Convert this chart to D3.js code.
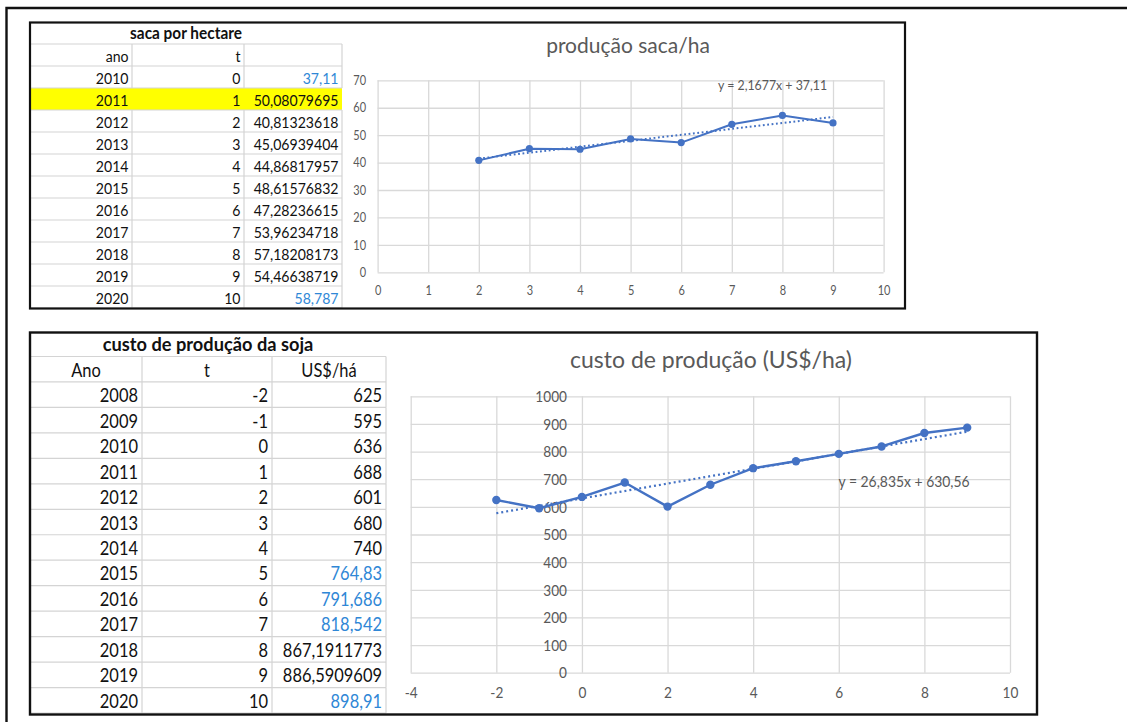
<!DOCTYPE html>
<html>
<head>
<meta charset="utf-8">
<script src="https://cdn.jsdelivr.net/npm/d3@7"></script>
<style>
  html, body { margin: 0; padding: 0; background: #fff; }
  svg { display: block; }
</style>
</head>
<body>
<svg id="sheet" width="1127" height="722"></svg>
<script>
// ---- saca por hectare (yield table + chart) ----
const sacaAno = [2010, 2011, 2012, 2013, 2014, 2015, 2016, 2017, 2018, 2019, 2020];
const sacaT = [0, 1, 2, 3, 4, 5, 6, 7, 8, 9, 10];
const sacaValues = [37.11, 50.08079695, 40.81323618, 45.06939404, 44.86817957, 48.61576832,
                    47.28236615, 53.96234718, 57.18208173, 54.46638719, 58.787];
const sacaProjectedYears = [2010, 2020];
const sacaHighlightYear = 2011;
const sacaChartT = [2, 3, 4, 5, 6, 7, 8, 9];
const sacaTrendCoef = [2.1677, 37.11];            // slope, intercept
const sacaXTicks = [0, 1, 2, 3, 4, 5, 6, 7, 8, 9, 10];
const sacaYTicks = [0, 10, 20, 30, 40, 50, 60, 70];

// ---- custo de produção da soja (cost table + chart) ----
const custoAno = [2008, 2009, 2010, 2011, 2012, 2013, 2014, 2015, 2016, 2017, 2018, 2019, 2020];
const custoT = [-2, -1, 0, 1, 2, 3, 4, 5, 6, 7, 8, 9, 10];
const custoValues = [625, 595, 636, 688, 601, 680, 740, 764.83, 791.686, 818.542,
                     867.1911773, 886.5909609, 898.91];
const custoProjectedYears = [2015, 2016, 2017, 2020];
const custoChartT = [-2, -1, 0, 1, 2, 3, 4, 5, 6, 7, 8, 9];
const custoTrendCoef = [26.835, 630.56];          // slope, intercept
const custoXTicks = [-4, -2, 0, 2, 4, 6, 8, 10];
const custoYTicks = [0, 100, 200, 300, 400, 500, 600, 700, 800, 900, 1000];

// ---- styling ----
const FONT = 'Lato, "Open Sans", "Noto Sans", sans-serif';
const SX = 0.88;                    // horizontal squeeze to mimic a narrow spreadsheet face
const INK = '#111';
const BLUE_TEXT = '#2f87d6';
const SERIES = '#4472C4';
const GRID = '#d9d9d9';
const CELL_GRID = '#d4d4d4';
const AXIS_TEXT = '#595959';

const svg = d3.select('#sheet');
svg.append('rect').attr('width', 1127).attr('height', 722).attr('fill', '#fff');

const comma = v => String(v).replace('.', ',');

function label(g, x, y, s, o) {
  return g.append('text')
    .attr('transform', `translate(${x},${y}) scale(${o.sx ?? SX},1)`)
    .attr('text-anchor', o.anchor || 'start')
    .style('font-family', FONT)
    .style('font-size', o.size + 'px')
    .style('font-weight', o.weight || 400)
    .attr('fill', o.color || INK)
    .text(s);
}

// ---------- spreadsheet table ----------
function drawTable(g, cfg) {
  const [x0, x1, x2, x3] = cfg.cols;
  const rowsTop = cfg.titleBottom;
  const n = cfg.rows.length + 1; // header + data rows
  const rh = (cfg.bottom - rowsTop) / n;

  // highlighted row fill
  cfg.rows.forEach((r, i) => {
    if (r.highlight) {
      g.append('rect').attr('x', x0).attr('y', rowsTop + rh * (i + 1))
        .attr('width', x3 - x0).attr('height', rh).attr('fill', '#ffff00');
    }
  });

  // cell gridlines
  const grid = g.append('g').attr('stroke', CELL_GRID).attr('stroke-width', 1.2).attr('fill', 'none');
  for (let i = 0; i <= n; i++) {
    const y = rowsTop + rh * i;
    grid.append('line').attr('x1', x0).attr('x2', x3).attr('y1', y).attr('y2', y);
  }
  for (let i = 0; i < n; i++) {
    const r = i === 0 ? null : cfg.rows[i - 1];
    if (r && r.highlight) continue;
    [x1, x2, x3].forEach(x => {
      grid.append('line').attr('x1', x).attr('x2', x)
        .attr('y1', rowsTop + rh * i).attr('y2', rowsTop + rh * (i + 1));
    });
  }

  // title (centred across the three columns)
  label(g, (x0 + x3) / 2, rowsTop - cfg.titlePad, cfg.title,
        { anchor: 'middle', size: cfg.titleSize, weight: 700, sx: 0.95 });

  // header row
  cfg.header.forEach((h, j) => {
    if (!h) return;
    const left = cfg.cols[j], right = cfg.cols[j + 1];
    const ax = cfg.headerAlign === 'middle' ? (left + right) / 2 : right - cfg.pad;
    label(g, ax, rowsTop + rh - cfg.basePad, h, { anchor: cfg.headerAlign, size: cfg.size });
  });

  // data rows
  cfg.rows.forEach((r, i) => {
    const yb = rowsTop + rh * (i + 2) - cfg.basePad;
    label(g, x1 - cfg.pad, yb, r.ano, { anchor: 'end', size: cfg.size });
    label(g, x2 - cfg.pad, yb, r.t, { anchor: 'end', size: cfg.size });
    label(g, x3 - cfg.pad, yb, r.val, { anchor: 'end', size: cfg.size, color: r.projected ? BLUE_TEXT : INK });
  });
}

// ---------- scatter chart with straight lines + linear trendline ----------
function drawChart(g, cfg) {
  const x = d3.scaleLinear().domain(cfg.xDomain).range(cfg.xRange);
  const y = d3.scaleLinear().domain(cfg.yDomain).range(cfg.yRange);
  const w = cfg.xRange[1] - cfg.xRange[0];
  const h = cfg.yRange[0] - cfg.yRange[1];
  const plain = d => String(d);

  // horizontal gridlines
  const gy = g.append('g').attr('transform', `translate(${cfg.xRange[0]},0)`)
    .call(d3.axisLeft(y).tickValues(cfg.yTicks).tickSize(-w).tickFormat(''));
  gy.select('.domain').remove();
  gy.selectAll('line').attr('stroke', GRID).attr('stroke-width', 1.3);

  // vertical gridlines
  const gx = g.append('g').attr('transform', `translate(0,${cfg.yRange[0]})`)
    .call(d3.axisBottom(x).tickValues(cfg.xTicks).tickSize(-h).tickFormat(''));
  gx.select('.domain').remove();
  gx.selectAll('line').attr('stroke', GRID).attr('stroke-width', 1.3);

  // y tick labels (axis sits at cfg.yAxisAt)
  const ly = g.append('g').attr('transform', `translate(${x(cfg.yAxisAt)},0)`)
    .call(d3.axisLeft(y).tickValues(cfg.yTicks).tickSize(0).tickPadding(cfg.yPad).tickFormat(plain));
  ly.select('.domain').remove();
  ly.selectAll('text')
    .attr('x', function () { return +this.getAttribute('x') / SX; })
    .attr('transform', `scale(${SX},1)`)
    .attr('dy', '0.34em')
    .style('font-family', FONT).style('font-size', cfg.tickSize + 'px').attr('fill', AXIS_TEXT);

  // x tick labels
  const lx = g.append('g').attr('transform', `translate(0,${cfg.yRange[0]})`)
    .call(d3.axisBottom(x).tickValues(cfg.xTicks).tickSize(0).tickPadding(cfg.xPad).tickFormat(plain));
  lx.select('.domain').remove();
  lx.selectAll('text')
    .attr('transform', `scale(${SX},1)`)
    .style('font-family', FONT).style('font-size', cfg.tickSize + 'px').attr('fill', AXIS_TEXT);

  // title
  label(g, cfg.titleX, cfg.titleY, cfg.title,
        { anchor: 'middle', size: cfg.titleSize, color: AXIS_TEXT, sx: 1 });

  // linear trendline
  const [m, b] = cfg.trend;
  const tx = d3.extent(cfg.points, d => d[0]);
  g.append('path')
    .datum(tx.map(t => [t, m * t + b]))
    .attr('d', d3.line().x(d => x(d[0])).y(d => y(d[1])))
    .attr('fill', 'none').attr('stroke', SERIES).attr('stroke-width', cfg.trendWidth)
    .attr('stroke-dasharray', cfg.dash);

  // series line + markers
  g.append('path')
    .datum(cfg.points)
    .attr('d', d3.line().x(d => x(d[0])).y(d => y(d[1])))
    .attr('fill', 'none').attr('stroke', SERIES).attr('stroke-width', cfg.lineWidth)
    .attr('stroke-linejoin', 'round');
  g.selectAll('circle.pt').data(cfg.points).join('circle')
    .attr('class', 'pt')
    .attr('cx', d => x(d[0])).attr('cy', d => y(d[1])).attr('r', cfg.r)
    .attr('fill', SERIES);

  // trendline equation
  const eq = `y = ${comma(m)}x + ${comma(b)}`;
  label(g, cfg.eqX, cfg.eqY, eq, { size: cfg.eqSize, color: AXIS_TEXT, sx: cfg.eqSx });
}

// ================= page frame =================
svg.append('path').attr('d', 'M6.5,722 V8 H1127')
  .attr('fill', 'none').attr('stroke', INK).attr('stroke-width', 2.4);

// ================= block 1 =================
const b1 = svg.append('g');
drawTable(b1, {
  cols: [30, 132, 244, 342],
  titleBottom: 44, bottom: 308,
  title: 'saca por hectare', titleSize: 16.2, titlePad: 4.8,
  header: ['ano', 't', ''], headerAlign: 'end',
  size: 16, pad: 3.5, basePad: 4.2,
  rows: sacaAno.map((a, i) => ({
    ano: String(a), t: String(sacaT[i]), val: comma(sacaValues[i]),
    projected: sacaProjectedYears.includes(a), highlight: a === sacaHighlightYear
  }))
});
drawChart(b1, {
  xDomain: [0, 10], xRange: [377.6, 883.6],
  yDomain: [0, 70], yRange: [272.3, 80.3],
  xTicks: sacaXTicks, yTicks: sacaYTicks, yAxisAt: 0,
  yPad: 11.5, xPad: 14, tickSize: 12.5,
  title: 'produção saca/ha', titleX: 628, titleY: 53, titleSize: 21,
  points: sacaChartT.map(t => [t, sacaValues[sacaT.indexOf(t)]]),
  trend: sacaTrendCoef, trendWidth: 2, dash: '1.8,2.6',
  lineWidth: 2, r: 3.6,
  eqX: 718, eqY: 89.5, eqSize: 13, eqSx: 0.95
});
b1.append('rect').attr('x', 30).attr('y', 22.5).attr('width', 875).attr('height', 286)
  .attr('fill', 'none').attr('stroke', INK).attr('stroke-width', 2.2);

// ================= block 2 =================
const b2 = svg.append('g');
drawTable(b2, {
  cols: [30, 142, 272, 386],
  titleBottom: 356.5, bottom: 713,
  title: 'custo de produção da soja', titleSize: 19.2, titlePad: 5.5,
  header: ['Ano', 't', 'US$/há'], headerAlign: 'middle',
  size: 18.7, pad: 4, basePad: 5.2,
  rows: custoAno.map((a, i) => ({
    ano: String(a), t: String(custoT[i]), val: comma(custoValues[i]),
    projected: custoProjectedYears.includes(a), highlight: false
  }))
});
drawChart(b2, {
  xDomain: [-4, 10], xRange: [410.7, 1010],
  yDomain: [0, 1000], yRange: [672.7, 396.3],
  xTicks: custoXTicks, yTicks: custoYTicks, yAxisAt: 0,
  yPad: 15, xPad: 14, tickSize: 15.5,
  title: 'custo de produção (US$/ha)', titleX: 711, titleY: 367.5, titleSize: 23,
  points: custoChartT.map(t => [t, custoValues[custoT.indexOf(t)]]),
  trend: custoTrendCoef, trendWidth: 2.2, dash: '2,3',
  lineWidth: 2.4, r: 4.2,
  eqX: 838.5, eqY: 486.5, eqSize: 14.5, eqSx: 0.96
});
b2.append('rect').attr('x', 30).attr('y', 332.5).attr('width', 1007).attr('height', 382)
  .attr('fill', 'none').attr('stroke', INK).attr('stroke-width', 2.4);
</script>
</body>
</html>
